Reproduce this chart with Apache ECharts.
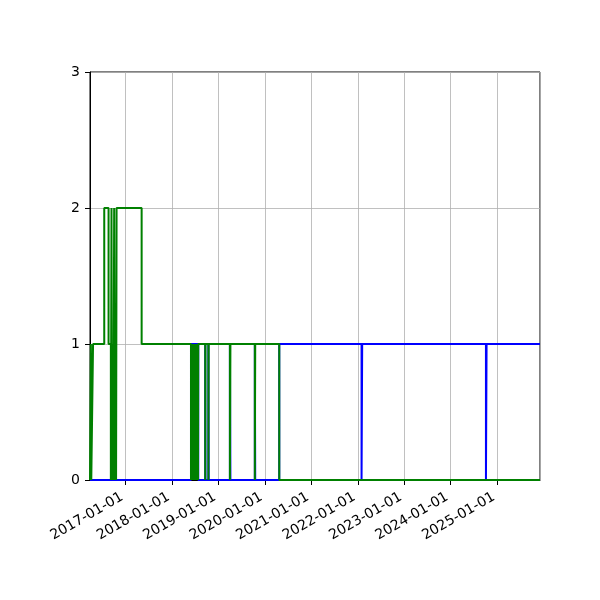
<!DOCTYPE html>
<html>
<head>
<meta charset="utf-8">
<script src="https://cdn.jsdelivr.net/npm/echarts@6/dist/echarts.min.js"></script>
<style>html,body{margin:0;padding:0;background:#fff}#c{width:600px;height:600px}</style>
</head>
<body>
<div id="c"></div>
<script>
const greenDates = ['2016-03-27','2016-04-03','2016-04-06','2016-04-20','2016-07-17','2016-08-20','2016-09-07','2016-09-12','2016-09-16','2016-09-22','2016-09-27','2016-10-03','2016-10-08','2016-10-14','2016-10-18','2016-10-22','2017-05-07',
  '2018-05-30','2018-06-01','2018-06-04','2018-06-06','2018-06-09','2018-06-11','2018-06-14','2018-06-16','2018-06-19','2018-06-21','2018-06-24','2018-06-26','2018-06-29','2018-07-01','2018-07-04','2018-07-06','2018-07-09','2018-07-11','2018-07-14','2018-07-16','2018-07-19','2018-07-21','2018-07-24','2018-07-26',
  '2018-09-19','2018-09-21','2018-10-14','2018-10-16','2019-04-01','2019-04-05','2019-10-14','2019-10-17','2020-04-23','2025-12-03'];
const greenValues = [0,1,0,1,2,1,0,2,0,1,0,2,0,1,0,2,1,
  0,1,0,1,0,1,0,1,0,1,0,1,0,1,0,1,0,1,0,1,0,1,0,1,
  0,1,0,1,0,1,0,1,0,0];
const blueDates = ['2016-03-27','2018-05-30','2018-07-26','2018-09-19','2018-09-21','2018-10-14','2018-10-16','2019-04-01','2019-04-05','2019-10-14','2019-10-17','2020-04-23','2022-01-30','2022-02-04','2024-10-04','2024-10-09','2025-12-03'];
const blueValues = [0,1,0,1,0,1,0,1,0,1,0,1,0,1,0,1,1];
const yTicks = [0,1,2,3];

function ts(s){ const p=s.split('-'); return new Date(+p[0], +p[1]-1, +p[2]).getTime(); }
function pad(n){ return (n<10?'0':'')+n; }
const blueData = blueDates.map((d,i)=>[ts(d), blueValues[i]]);
const greenData = greenDates.map((d,i)=>[ts(d), greenValues[i]]);

const chart = echarts.init(document.getElementById('c'));
const font = 'DejaVu Sans';
chart.setOption({
  animation:false,
  backgroundColor:'#fff',
  grid:{left:90,right:60,top:72,bottom:120,show:true,borderColor:'#000',borderWidth:1,backgroundColor:'transparent'},
  xAxis:{
    type:'time',
    min: ts(greenDates[0]), max: ts(greenDates[greenDates.length-1]),
    splitNumber:10,
    minInterval: 365*86400000,
    maxInterval: 366*86400000,
    axisLine:{show:true,lineStyle:{color:'#000',width:1}},
    axisTick:{show:true,length:5,inside:false,lineStyle:{color:'#000',width:1}},
    splitLine:{show:true,lineStyle:{color:'#b0b0b0',width:0.8}},
    axisLabel:{
      rotate:30, margin:14, color:'#000', fontFamily:font, fontSize:14,
      showMinLabel:false, showMaxLabel:false,
      formatter:function(v){ const d=new Date(v); return '{a|'+d.getFullYear()+'-'+pad(d.getMonth()+1)+'-'+pad(d.getDate())+'}'; },
      rich:{a:{padding:[0,4,0,0],color:'#000',fontFamily:font,fontSize:14}}
    }
  },
  yAxis:{
    type:'value', min:yTicks[0], max:yTicks[yTicks.length-1], interval:1,
    axisLine:{show:true,lineStyle:{color:'#000',width:1}},
    axisTick:{show:true,length:5,inside:false,lineStyle:{color:'#000',width:1}},
    splitLine:{show:true,lineStyle:{color:'#b0b0b0',width:0.8}},
    axisLabel:{margin:10,color:'#000',fontFamily:font,fontSize:14}
  },
  series:[
    {type:'line',step:'end',data:blueData,showSymbol:false,lineStyle:{color:'#0000ff',width:2},itemStyle:{color:'#0000ff'},z:2},
    {type:'line',step:'end',data:greenData,showSymbol:false,lineStyle:{color:'#008000',width:2},itemStyle:{color:'#008000'},z:3}
  ]
});
</script>
</body>
</html>
